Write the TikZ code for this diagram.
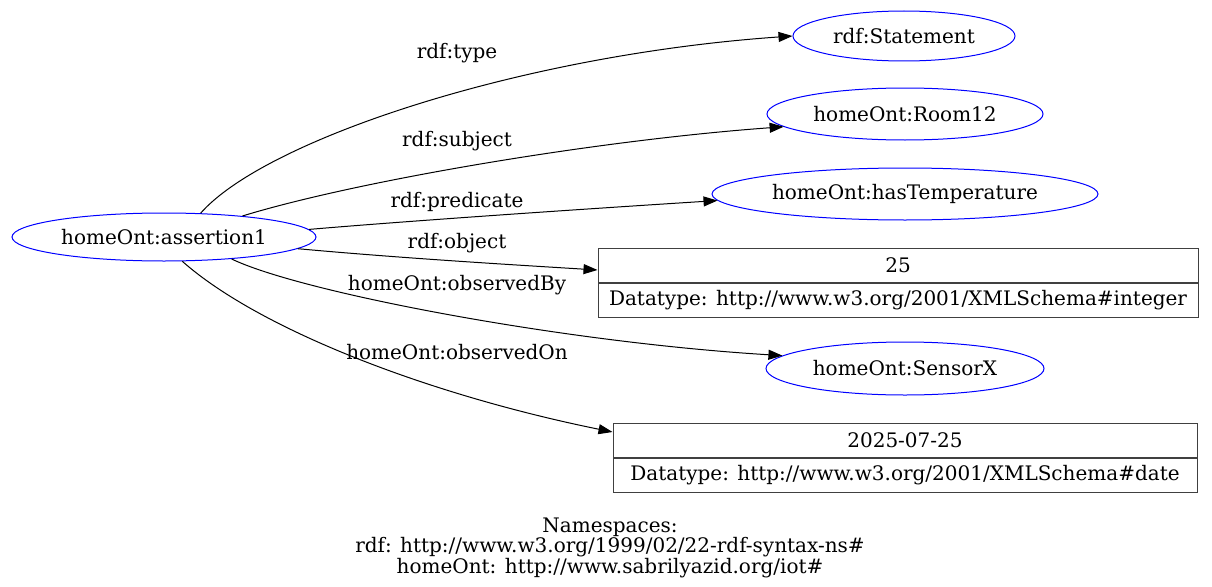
\documentclass[tikz,border=0pt]{standalone}
\usepackage{fontspec}
\setmainfont{DejaVu Serif}
\usetikzlibrary{arrows.meta,shapes.geometric}
\tikzset{
  res/.style={ellipse, draw=blue, line width=1pt, inner sep=0pt},
  lit/.style={rectangle, draw=black!75, line width=1pt, inner sep=0pt, minimum height=34pt},
  rel/.style={draw=black, line width=1pt, -{Triangle[length=14pt,width=10pt]}},
  elabel/.style={inner sep=0pt},
}
\newcommand{\cw}[1]{\makebox[0pt]{#1}}
\begin{document}
\begin{tikzpicture}[x=1pt,y=-1pt,font=\fontsize{20}{24}\selectfont]
\useasboundingbox (0,0) rectangle (1212,586);
% subject of the reified statement
\node[res, minimum width=304pt, minimum height=48pt] (a) at (164,237) {\cw{homeOnt:assertion1}};
% objects
\node[res, minimum width=222pt, minimum height=50pt] (st) at (904,36) {\cw{rdf:Statement}};
\node[res, minimum width=276pt, minimum height=52pt] (room) at (905,114) {\cw{homeOnt:Room12}};
\node[res, minimum width=386pt, minimum height=52pt] (temp) at (905,194) {\cw{homeOnt:hasTemperature}};
\node[lit, minimum width=600pt] (v25) at (898,265) {25};
\node[lit, minimum width=600pt, anchor=north] (dt25) at (v25.south) {Datatype: http://www.w3.org/2001/XMLSchema\#integer};
\node[res, minimum width=278pt, minimum height=53pt] (sensor) at (905,368.5) {\cw{homeOnt:SensorX}};
\node[lit, minimum width=584pt] (vdate) at (905,440) {2025-07-25};
\node[lit, minimum width=584pt, anchor=north] (dtdate) at (vdate.south) {Datatype: http://www.w3.org/2001/XMLSchema\#date};
% properties
\draw[rel] (a.33) .. controls (265,140) and (520,55) .. (st.west);
\draw[rel] (a.15) .. controls (360,180) and (600,140) .. (room.186);
\draw[rel] (a.3) .. controls (420,220) and (600,208) .. (temp.182);
\draw[rel] (a.-5) .. controls (400,258) and (500,264) .. ([yshift=-5pt]v25.west);
\draw[rel] (a.-18) .. controls (300,292) and (560,342) .. (sensor.174);
\draw[rel] (a.-53) .. controls (260,330) and (430,395) .. ([yshift=8pt]vdate.west);
\node[elabel] (ltype) at (457,53) {rdf:type};
\node[elabel] (lsubj) at (457,141) {rdf:subject};
\node[elabel] (lpred) at (457,202) {rdf:predicate};
\node[elabel] (lobj) at (457,243) {rdf:object};
\node[elabel] (lby) at (457,285) {homeOnt:observedBy};
\node[elabel] (lon) at (457,352) {homeOnt:observedOn};
% namespace legend
\node[align=center, inner sep=0pt, font=\fontsize{20}{16.5}\selectfont] (ns) at (610,548)
  {Namespaces:\\ rdf: http://www.w3.org/1999/02/22-rdf-syntax-ns\#\\ homeOnt: http://www.sabrilyazid.org/iot\#};
\end{tikzpicture}
\end{document}
